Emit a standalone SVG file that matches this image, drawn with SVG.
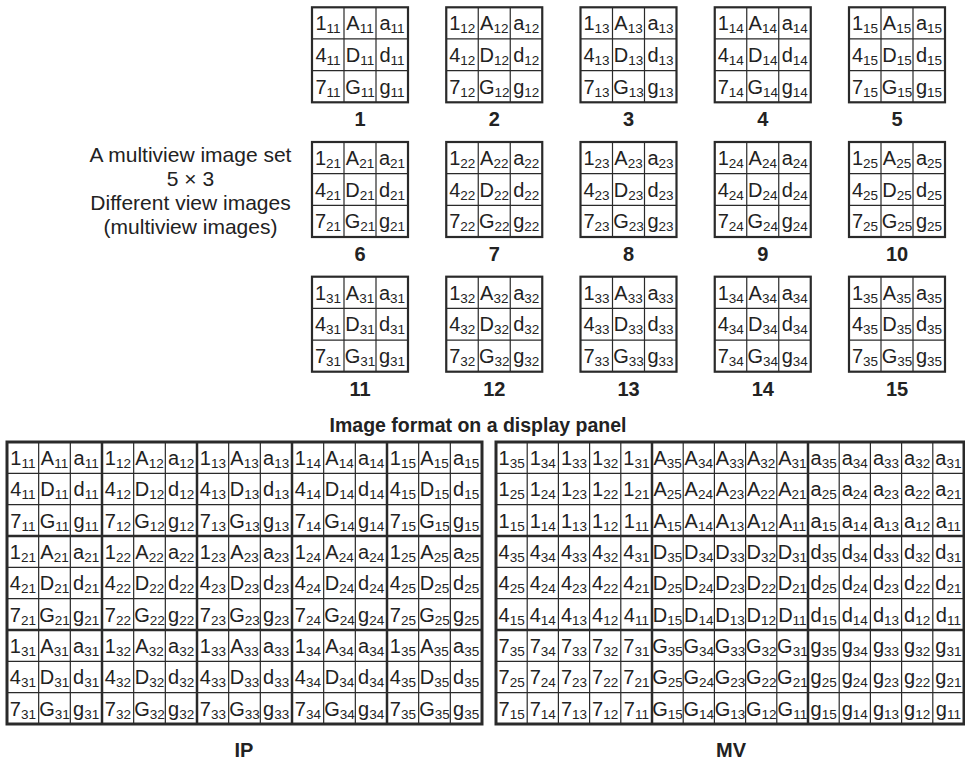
<svg xmlns="http://www.w3.org/2000/svg" width="965" height="760" viewBox="0 0 965 760">
<style>
text{font-family:"Liberation Sans",Arial,Helvetica,sans-serif;fill:#222}
.t{font-size:20px;text-anchor:middle}
.s{font-size:13.5px}
.n{font-size:20px;font-weight:bold;text-anchor:middle}
.h{font-size:19.5px;font-weight:bold;text-anchor:middle}
.l{font-size:21px;text-anchor:middle}
.thin{stroke:#2a2a2a;stroke-width:1.2;fill:none}
.thick{stroke:#2a2a2a;stroke-width:2.5;fill:none}
</style>
<defs>
<g id="sg"><path class="thin" d="M32 0V95M64 0V95M0 31.67H96M0 63.33H96"/><rect class="thick" x="0" y="0" width="96" height="95" style="stroke-width:2.2"/></g>
</defs>
<rect width="965" height="760" fill="#fff"/>

<g id="caption-set">
<text class="l" x="190.5" y="162">A multiview image set</text>
<text class="l" x="190.5" y="186">5 × 3</text>
<text class="l" x="190.5" y="210">Different view images</text>
<text class="l" x="190.5" y="233.5">(multiview images)</text>
</g>

<g id="views" class="t">
<g id="view-1" transform="translate(312,7.3)"><use href="#sg"/>
<text x="16" y="23">1<tspan class="s" dy="3">11</tspan></text><text x="48" y="23">A<tspan class="s" dy="3">11</tspan></text><text x="80" y="23">a<tspan class="s" dy="3">11</tspan></text>
<text x="16" y="54.7">4<tspan class="s" dy="3">11</tspan></text><text x="48" y="54.7">D<tspan class="s" dy="3">11</tspan></text><text x="80" y="54.7">d<tspan class="s" dy="3">11</tspan></text>
<text x="16" y="86.3">7<tspan class="s" dy="3">11</tspan></text><text x="48" y="86.3">G<tspan class="s" dy="3">11</tspan></text><text x="80" y="86.3">g<tspan class="s" dy="3">11</tspan></text>
<text class="n" x="48" y="119">1</text></g>
<g id="view-2" transform="translate(446.25,7.3)"><use href="#sg"/>
<text x="16" y="23">1<tspan class="s" dy="3">12</tspan></text><text x="48" y="23">A<tspan class="s" dy="3">12</tspan></text><text x="80" y="23">a<tspan class="s" dy="3">12</tspan></text>
<text x="16" y="54.7">4<tspan class="s" dy="3">12</tspan></text><text x="48" y="54.7">D<tspan class="s" dy="3">12</tspan></text><text x="80" y="54.7">d<tspan class="s" dy="3">12</tspan></text>
<text x="16" y="86.3">7<tspan class="s" dy="3">12</tspan></text><text x="48" y="86.3">G<tspan class="s" dy="3">12</tspan></text><text x="80" y="86.3">g<tspan class="s" dy="3">12</tspan></text>
<text class="n" x="48" y="119">2</text></g>
<g id="view-3" transform="translate(580.5,7.3)"><use href="#sg"/>
<text x="16" y="23">1<tspan class="s" dy="3">13</tspan></text><text x="48" y="23">A<tspan class="s" dy="3">13</tspan></text><text x="80" y="23">a<tspan class="s" dy="3">13</tspan></text>
<text x="16" y="54.7">4<tspan class="s" dy="3">13</tspan></text><text x="48" y="54.7">D<tspan class="s" dy="3">13</tspan></text><text x="80" y="54.7">d<tspan class="s" dy="3">13</tspan></text>
<text x="16" y="86.3">7<tspan class="s" dy="3">13</tspan></text><text x="48" y="86.3">G<tspan class="s" dy="3">13</tspan></text><text x="80" y="86.3">g<tspan class="s" dy="3">13</tspan></text>
<text class="n" x="48" y="119">3</text></g>
<g id="view-4" transform="translate(714.75,7.3)"><use href="#sg"/>
<text x="16" y="23">1<tspan class="s" dy="3">14</tspan></text><text x="48" y="23">A<tspan class="s" dy="3">14</tspan></text><text x="80" y="23">a<tspan class="s" dy="3">14</tspan></text>
<text x="16" y="54.7">4<tspan class="s" dy="3">14</tspan></text><text x="48" y="54.7">D<tspan class="s" dy="3">14</tspan></text><text x="80" y="54.7">d<tspan class="s" dy="3">14</tspan></text>
<text x="16" y="86.3">7<tspan class="s" dy="3">14</tspan></text><text x="48" y="86.3">G<tspan class="s" dy="3">14</tspan></text><text x="80" y="86.3">g<tspan class="s" dy="3">14</tspan></text>
<text class="n" x="48" y="119">4</text></g>
<g id="view-5" transform="translate(849,7.3)"><use href="#sg"/>
<text x="16" y="23">1<tspan class="s" dy="3">15</tspan></text><text x="48" y="23">A<tspan class="s" dy="3">15</tspan></text><text x="80" y="23">a<tspan class="s" dy="3">15</tspan></text>
<text x="16" y="54.7">4<tspan class="s" dy="3">15</tspan></text><text x="48" y="54.7">D<tspan class="s" dy="3">15</tspan></text><text x="80" y="54.7">d<tspan class="s" dy="3">15</tspan></text>
<text x="16" y="86.3">7<tspan class="s" dy="3">15</tspan></text><text x="48" y="86.3">G<tspan class="s" dy="3">15</tspan></text><text x="80" y="86.3">g<tspan class="s" dy="3">15</tspan></text>
<text class="n" x="48" y="119">5</text></g>

<g id="view-6" transform="translate(312,142)"><use href="#sg"/>
<text x="16" y="23">1<tspan class="s" dy="3">21</tspan></text><text x="48" y="23">A<tspan class="s" dy="3">21</tspan></text><text x="80" y="23">a<tspan class="s" dy="3">21</tspan></text>
<text x="16" y="54.7">4<tspan class="s" dy="3">21</tspan></text><text x="48" y="54.7">D<tspan class="s" dy="3">21</tspan></text><text x="80" y="54.7">d<tspan class="s" dy="3">21</tspan></text>
<text x="16" y="86.3">7<tspan class="s" dy="3">21</tspan></text><text x="48" y="86.3">G<tspan class="s" dy="3">21</tspan></text><text x="80" y="86.3">g<tspan class="s" dy="3">21</tspan></text>
<text class="n" x="48" y="119">6</text></g>
<g id="view-7" transform="translate(446.25,142)"><use href="#sg"/>
<text x="16" y="23">1<tspan class="s" dy="3">22</tspan></text><text x="48" y="23">A<tspan class="s" dy="3">22</tspan></text><text x="80" y="23">a<tspan class="s" dy="3">22</tspan></text>
<text x="16" y="54.7">4<tspan class="s" dy="3">22</tspan></text><text x="48" y="54.7">D<tspan class="s" dy="3">22</tspan></text><text x="80" y="54.7">d<tspan class="s" dy="3">22</tspan></text>
<text x="16" y="86.3">7<tspan class="s" dy="3">22</tspan></text><text x="48" y="86.3">G<tspan class="s" dy="3">22</tspan></text><text x="80" y="86.3">g<tspan class="s" dy="3">22</tspan></text>
<text class="n" x="48" y="119">7</text></g>
<g id="view-8" transform="translate(580.5,142)"><use href="#sg"/>
<text x="16" y="23">1<tspan class="s" dy="3">23</tspan></text><text x="48" y="23">A<tspan class="s" dy="3">23</tspan></text><text x="80" y="23">a<tspan class="s" dy="3">23</tspan></text>
<text x="16" y="54.7">4<tspan class="s" dy="3">23</tspan></text><text x="48" y="54.7">D<tspan class="s" dy="3">23</tspan></text><text x="80" y="54.7">d<tspan class="s" dy="3">23</tspan></text>
<text x="16" y="86.3">7<tspan class="s" dy="3">23</tspan></text><text x="48" y="86.3">G<tspan class="s" dy="3">23</tspan></text><text x="80" y="86.3">g<tspan class="s" dy="3">23</tspan></text>
<text class="n" x="48" y="119">8</text></g>
<g id="view-9" transform="translate(714.75,142)"><use href="#sg"/>
<text x="16" y="23">1<tspan class="s" dy="3">24</tspan></text><text x="48" y="23">A<tspan class="s" dy="3">24</tspan></text><text x="80" y="23">a<tspan class="s" dy="3">24</tspan></text>
<text x="16" y="54.7">4<tspan class="s" dy="3">24</tspan></text><text x="48" y="54.7">D<tspan class="s" dy="3">24</tspan></text><text x="80" y="54.7">d<tspan class="s" dy="3">24</tspan></text>
<text x="16" y="86.3">7<tspan class="s" dy="3">24</tspan></text><text x="48" y="86.3">G<tspan class="s" dy="3">24</tspan></text><text x="80" y="86.3">g<tspan class="s" dy="3">24</tspan></text>
<text class="n" x="48" y="119">9</text></g>
<g id="view-10" transform="translate(849,142)"><use href="#sg"/>
<text x="16" y="23">1<tspan class="s" dy="3">25</tspan></text><text x="48" y="23">A<tspan class="s" dy="3">25</tspan></text><text x="80" y="23">a<tspan class="s" dy="3">25</tspan></text>
<text x="16" y="54.7">4<tspan class="s" dy="3">25</tspan></text><text x="48" y="54.7">D<tspan class="s" dy="3">25</tspan></text><text x="80" y="54.7">d<tspan class="s" dy="3">25</tspan></text>
<text x="16" y="86.3">7<tspan class="s" dy="3">25</tspan></text><text x="48" y="86.3">G<tspan class="s" dy="3">25</tspan></text><text x="80" y="86.3">g<tspan class="s" dy="3">25</tspan></text>
<text class="n" x="48" y="119">10</text></g>

<g id="view-11" transform="translate(312,276.7)"><use href="#sg"/>
<text x="16" y="23">1<tspan class="s" dy="3">31</tspan></text><text x="48" y="23">A<tspan class="s" dy="3">31</tspan></text><text x="80" y="23">a<tspan class="s" dy="3">31</tspan></text>
<text x="16" y="54.7">4<tspan class="s" dy="3">31</tspan></text><text x="48" y="54.7">D<tspan class="s" dy="3">31</tspan></text><text x="80" y="54.7">d<tspan class="s" dy="3">31</tspan></text>
<text x="16" y="86.3">7<tspan class="s" dy="3">31</tspan></text><text x="48" y="86.3">G<tspan class="s" dy="3">31</tspan></text><text x="80" y="86.3">g<tspan class="s" dy="3">31</tspan></text>
<text class="n" x="48" y="119">11</text></g>
<g id="view-12" transform="translate(446.25,276.7)"><use href="#sg"/>
<text x="16" y="23">1<tspan class="s" dy="3">32</tspan></text><text x="48" y="23">A<tspan class="s" dy="3">32</tspan></text><text x="80" y="23">a<tspan class="s" dy="3">32</tspan></text>
<text x="16" y="54.7">4<tspan class="s" dy="3">32</tspan></text><text x="48" y="54.7">D<tspan class="s" dy="3">32</tspan></text><text x="80" y="54.7">d<tspan class="s" dy="3">32</tspan></text>
<text x="16" y="86.3">7<tspan class="s" dy="3">32</tspan></text><text x="48" y="86.3">G<tspan class="s" dy="3">32</tspan></text><text x="80" y="86.3">g<tspan class="s" dy="3">32</tspan></text>
<text class="n" x="48" y="119">12</text></g>
<g id="view-13" transform="translate(580.5,276.7)"><use href="#sg"/>
<text x="16" y="23">1<tspan class="s" dy="3">33</tspan></text><text x="48" y="23">A<tspan class="s" dy="3">33</tspan></text><text x="80" y="23">a<tspan class="s" dy="3">33</tspan></text>
<text x="16" y="54.7">4<tspan class="s" dy="3">33</tspan></text><text x="48" y="54.7">D<tspan class="s" dy="3">33</tspan></text><text x="80" y="54.7">d<tspan class="s" dy="3">33</tspan></text>
<text x="16" y="86.3">7<tspan class="s" dy="3">33</tspan></text><text x="48" y="86.3">G<tspan class="s" dy="3">33</tspan></text><text x="80" y="86.3">g<tspan class="s" dy="3">33</tspan></text>
<text class="n" x="48" y="119">13</text></g>
<g id="view-14" transform="translate(714.75,276.7)"><use href="#sg"/>
<text x="16" y="23">1<tspan class="s" dy="3">34</tspan></text><text x="48" y="23">A<tspan class="s" dy="3">34</tspan></text><text x="80" y="23">a<tspan class="s" dy="3">34</tspan></text>
<text x="16" y="54.7">4<tspan class="s" dy="3">34</tspan></text><text x="48" y="54.7">D<tspan class="s" dy="3">34</tspan></text><text x="80" y="54.7">d<tspan class="s" dy="3">34</tspan></text>
<text x="16" y="86.3">7<tspan class="s" dy="3">34</tspan></text><text x="48" y="86.3">G<tspan class="s" dy="3">34</tspan></text><text x="80" y="86.3">g<tspan class="s" dy="3">34</tspan></text>
<text class="n" x="48" y="119">14</text></g>
<g id="view-15" transform="translate(849,276.7)"><use href="#sg"/>
<text x="16" y="23">1<tspan class="s" dy="3">35</tspan></text><text x="48" y="23">A<tspan class="s" dy="3">35</tspan></text><text x="80" y="23">a<tspan class="s" dy="3">35</tspan></text>
<text x="16" y="54.7">4<tspan class="s" dy="3">35</tspan></text><text x="48" y="54.7">D<tspan class="s" dy="3">35</tspan></text><text x="80" y="54.7">d<tspan class="s" dy="3">35</tspan></text>
<text x="16" y="86.3">7<tspan class="s" dy="3">35</tspan></text><text x="48" y="86.3">G<tspan class="s" dy="3">35</tspan></text><text x="80" y="86.3">g<tspan class="s" dy="3">35</tspan></text>
<text class="n" x="48" y="119">15</text></g>
</g>

<text class="h" x="478" y="432">Image format on a display panel</text>

<g id="ip-panel" class="t">
<path class="thin" d="M38.67 442V724M70.33 442V724M133.67 442V724M165.33 442V724M228.67 442V724M260.33 442V724M323.67 442V724M355.33 442V724M418.67 442V724M450.33 442V724M7 473.33H482M7 504.67H482M7 567.33H482M7 598.67H482M7 661.33H482M7 692.67H482"/>
<path class="thick" d="M102 442V724M197 442V724M292 442V724M387 442V724M7 536H482M7 630H482"/>
<rect class="thick" x="7" y="442" width="475" height="282" style="stroke-width:3"/>

<g transform="translate(7,442)">
<text x="15.83" y="23">1<tspan class="s" dy="3">11</tspan></text><text x="47.5" y="23">A<tspan class="s" dy="3">11</tspan></text><text x="79.17" y="23">a<tspan class="s" dy="3">11</tspan></text>
<text x="15.83" y="54.3">4<tspan class="s" dy="3">11</tspan></text><text x="47.5" y="54.3">D<tspan class="s" dy="3">11</tspan></text><text x="79.17" y="54.3">d<tspan class="s" dy="3">11</tspan></text>
<text x="15.83" y="85.7">7<tspan class="s" dy="3">11</tspan></text><text x="47.5" y="85.7">G<tspan class="s" dy="3">11</tspan></text><text x="79.17" y="85.7">g<tspan class="s" dy="3">11</tspan></text>
</g>
<g transform="translate(102,442)">
<text x="15.83" y="23">1<tspan class="s" dy="3">12</tspan></text><text x="47.5" y="23">A<tspan class="s" dy="3">12</tspan></text><text x="79.17" y="23">a<tspan class="s" dy="3">12</tspan></text>
<text x="15.83" y="54.3">4<tspan class="s" dy="3">12</tspan></text><text x="47.5" y="54.3">D<tspan class="s" dy="3">12</tspan></text><text x="79.17" y="54.3">d<tspan class="s" dy="3">12</tspan></text>
<text x="15.83" y="85.7">7<tspan class="s" dy="3">12</tspan></text><text x="47.5" y="85.7">G<tspan class="s" dy="3">12</tspan></text><text x="79.17" y="85.7">g<tspan class="s" dy="3">12</tspan></text>
</g>
<g transform="translate(197,442)">
<text x="15.83" y="23">1<tspan class="s" dy="3">13</tspan></text><text x="47.5" y="23">A<tspan class="s" dy="3">13</tspan></text><text x="79.17" y="23">a<tspan class="s" dy="3">13</tspan></text>
<text x="15.83" y="54.3">4<tspan class="s" dy="3">13</tspan></text><text x="47.5" y="54.3">D<tspan class="s" dy="3">13</tspan></text><text x="79.17" y="54.3">d<tspan class="s" dy="3">13</tspan></text>
<text x="15.83" y="85.7">7<tspan class="s" dy="3">13</tspan></text><text x="47.5" y="85.7">G<tspan class="s" dy="3">13</tspan></text><text x="79.17" y="85.7">g<tspan class="s" dy="3">13</tspan></text>
</g>
<g transform="translate(292,442)">
<text x="15.83" y="23">1<tspan class="s" dy="3">14</tspan></text><text x="47.5" y="23">A<tspan class="s" dy="3">14</tspan></text><text x="79.17" y="23">a<tspan class="s" dy="3">14</tspan></text>
<text x="15.83" y="54.3">4<tspan class="s" dy="3">14</tspan></text><text x="47.5" y="54.3">D<tspan class="s" dy="3">14</tspan></text><text x="79.17" y="54.3">d<tspan class="s" dy="3">14</tspan></text>
<text x="15.83" y="85.7">7<tspan class="s" dy="3">14</tspan></text><text x="47.5" y="85.7">G<tspan class="s" dy="3">14</tspan></text><text x="79.17" y="85.7">g<tspan class="s" dy="3">14</tspan></text>
</g>
<g transform="translate(387,442)">
<text x="15.83" y="23">1<tspan class="s" dy="3">15</tspan></text><text x="47.5" y="23">A<tspan class="s" dy="3">15</tspan></text><text x="79.17" y="23">a<tspan class="s" dy="3">15</tspan></text>
<text x="15.83" y="54.3">4<tspan class="s" dy="3">15</tspan></text><text x="47.5" y="54.3">D<tspan class="s" dy="3">15</tspan></text><text x="79.17" y="54.3">d<tspan class="s" dy="3">15</tspan></text>
<text x="15.83" y="85.7">7<tspan class="s" dy="3">15</tspan></text><text x="47.5" y="85.7">G<tspan class="s" dy="3">15</tspan></text><text x="79.17" y="85.7">g<tspan class="s" dy="3">15</tspan></text>
</g>

<g transform="translate(7,536)">
<text x="15.83" y="23">1<tspan class="s" dy="3">21</tspan></text><text x="47.5" y="23">A<tspan class="s" dy="3">21</tspan></text><text x="79.17" y="23">a<tspan class="s" dy="3">21</tspan></text>
<text x="15.83" y="54.3">4<tspan class="s" dy="3">21</tspan></text><text x="47.5" y="54.3">D<tspan class="s" dy="3">21</tspan></text><text x="79.17" y="54.3">d<tspan class="s" dy="3">21</tspan></text>
<text x="15.83" y="85.7">7<tspan class="s" dy="3">21</tspan></text><text x="47.5" y="85.7">G<tspan class="s" dy="3">21</tspan></text><text x="79.17" y="85.7">g<tspan class="s" dy="3">21</tspan></text>
</g>
<g transform="translate(102,536)">
<text x="15.83" y="23">1<tspan class="s" dy="3">22</tspan></text><text x="47.5" y="23">A<tspan class="s" dy="3">22</tspan></text><text x="79.17" y="23">a<tspan class="s" dy="3">22</tspan></text>
<text x="15.83" y="54.3">4<tspan class="s" dy="3">22</tspan></text><text x="47.5" y="54.3">D<tspan class="s" dy="3">22</tspan></text><text x="79.17" y="54.3">d<tspan class="s" dy="3">22</tspan></text>
<text x="15.83" y="85.7">7<tspan class="s" dy="3">22</tspan></text><text x="47.5" y="85.7">G<tspan class="s" dy="3">22</tspan></text><text x="79.17" y="85.7">g<tspan class="s" dy="3">22</tspan></text>
</g>
<g transform="translate(197,536)">
<text x="15.83" y="23">1<tspan class="s" dy="3">23</tspan></text><text x="47.5" y="23">A<tspan class="s" dy="3">23</tspan></text><text x="79.17" y="23">a<tspan class="s" dy="3">23</tspan></text>
<text x="15.83" y="54.3">4<tspan class="s" dy="3">23</tspan></text><text x="47.5" y="54.3">D<tspan class="s" dy="3">23</tspan></text><text x="79.17" y="54.3">d<tspan class="s" dy="3">23</tspan></text>
<text x="15.83" y="85.7">7<tspan class="s" dy="3">23</tspan></text><text x="47.5" y="85.7">G<tspan class="s" dy="3">23</tspan></text><text x="79.17" y="85.7">g<tspan class="s" dy="3">23</tspan></text>
</g>
<g transform="translate(292,536)">
<text x="15.83" y="23">1<tspan class="s" dy="3">24</tspan></text><text x="47.5" y="23">A<tspan class="s" dy="3">24</tspan></text><text x="79.17" y="23">a<tspan class="s" dy="3">24</tspan></text>
<text x="15.83" y="54.3">4<tspan class="s" dy="3">24</tspan></text><text x="47.5" y="54.3">D<tspan class="s" dy="3">24</tspan></text><text x="79.17" y="54.3">d<tspan class="s" dy="3">24</tspan></text>
<text x="15.83" y="85.7">7<tspan class="s" dy="3">24</tspan></text><text x="47.5" y="85.7">G<tspan class="s" dy="3">24</tspan></text><text x="79.17" y="85.7">g<tspan class="s" dy="3">24</tspan></text>
</g>
<g transform="translate(387,536)">
<text x="15.83" y="23">1<tspan class="s" dy="3">25</tspan></text><text x="47.5" y="23">A<tspan class="s" dy="3">25</tspan></text><text x="79.17" y="23">a<tspan class="s" dy="3">25</tspan></text>
<text x="15.83" y="54.3">4<tspan class="s" dy="3">25</tspan></text><text x="47.5" y="54.3">D<tspan class="s" dy="3">25</tspan></text><text x="79.17" y="54.3">d<tspan class="s" dy="3">25</tspan></text>
<text x="15.83" y="85.7">7<tspan class="s" dy="3">25</tspan></text><text x="47.5" y="85.7">G<tspan class="s" dy="3">25</tspan></text><text x="79.17" y="85.7">g<tspan class="s" dy="3">25</tspan></text>
</g>

<g transform="translate(7,630)">
<text x="15.83" y="23">1<tspan class="s" dy="3">31</tspan></text><text x="47.5" y="23">A<tspan class="s" dy="3">31</tspan></text><text x="79.17" y="23">a<tspan class="s" dy="3">31</tspan></text>
<text x="15.83" y="54.3">4<tspan class="s" dy="3">31</tspan></text><text x="47.5" y="54.3">D<tspan class="s" dy="3">31</tspan></text><text x="79.17" y="54.3">d<tspan class="s" dy="3">31</tspan></text>
<text x="15.83" y="85.7">7<tspan class="s" dy="3">31</tspan></text><text x="47.5" y="85.7">G<tspan class="s" dy="3">31</tspan></text><text x="79.17" y="85.7">g<tspan class="s" dy="3">31</tspan></text>
</g>
<g transform="translate(102,630)">
<text x="15.83" y="23">1<tspan class="s" dy="3">32</tspan></text><text x="47.5" y="23">A<tspan class="s" dy="3">32</tspan></text><text x="79.17" y="23">a<tspan class="s" dy="3">32</tspan></text>
<text x="15.83" y="54.3">4<tspan class="s" dy="3">32</tspan></text><text x="47.5" y="54.3">D<tspan class="s" dy="3">32</tspan></text><text x="79.17" y="54.3">d<tspan class="s" dy="3">32</tspan></text>
<text x="15.83" y="85.7">7<tspan class="s" dy="3">32</tspan></text><text x="47.5" y="85.7">G<tspan class="s" dy="3">32</tspan></text><text x="79.17" y="85.7">g<tspan class="s" dy="3">32</tspan></text>
</g>
<g transform="translate(197,630)">
<text x="15.83" y="23">1<tspan class="s" dy="3">33</tspan></text><text x="47.5" y="23">A<tspan class="s" dy="3">33</tspan></text><text x="79.17" y="23">a<tspan class="s" dy="3">33</tspan></text>
<text x="15.83" y="54.3">4<tspan class="s" dy="3">33</tspan></text><text x="47.5" y="54.3">D<tspan class="s" dy="3">33</tspan></text><text x="79.17" y="54.3">d<tspan class="s" dy="3">33</tspan></text>
<text x="15.83" y="85.7">7<tspan class="s" dy="3">33</tspan></text><text x="47.5" y="85.7">G<tspan class="s" dy="3">33</tspan></text><text x="79.17" y="85.7">g<tspan class="s" dy="3">33</tspan></text>
</g>
<g transform="translate(292,630)">
<text x="15.83" y="23">1<tspan class="s" dy="3">34</tspan></text><text x="47.5" y="23">A<tspan class="s" dy="3">34</tspan></text><text x="79.17" y="23">a<tspan class="s" dy="3">34</tspan></text>
<text x="15.83" y="54.3">4<tspan class="s" dy="3">34</tspan></text><text x="47.5" y="54.3">D<tspan class="s" dy="3">34</tspan></text><text x="79.17" y="54.3">d<tspan class="s" dy="3">34</tspan></text>
<text x="15.83" y="85.7">7<tspan class="s" dy="3">34</tspan></text><text x="47.5" y="85.7">G<tspan class="s" dy="3">34</tspan></text><text x="79.17" y="85.7">g<tspan class="s" dy="3">34</tspan></text>
</g>
<g transform="translate(387,630)">
<text x="15.83" y="23">1<tspan class="s" dy="3">35</tspan></text><text x="47.5" y="23">A<tspan class="s" dy="3">35</tspan></text><text x="79.17" y="23">a<tspan class="s" dy="3">35</tspan></text>
<text x="15.83" y="54.3">4<tspan class="s" dy="3">35</tspan></text><text x="47.5" y="54.3">D<tspan class="s" dy="3">35</tspan></text><text x="79.17" y="54.3">d<tspan class="s" dy="3">35</tspan></text>
<text x="15.83" y="85.7">7<tspan class="s" dy="3">35</tspan></text><text x="47.5" y="85.7">G<tspan class="s" dy="3">35</tspan></text><text x="79.17" y="85.7">g<tspan class="s" dy="3">35</tspan></text>
</g>
<text class="n" x="244" y="757">IP</text>
</g>

<g id="mv-panel" class="t">
<path class="thin" d="M527.2 442V724M558.4 442V724M589.6 442V724M620.8 442V724M683.2 442V724M714.4 442V724M745.6 442V724M776.8 442V724M839.2 442V724M870.4 442V724M901.6 442V724M932.8 442V724M496 473.33H964M496 504.67H964M496 567.33H964M496 598.67H964M496 661.33H964M496 692.67H964"/>
<path class="thick" d="M652 442V724M808 442V724M496 536H964M496 630H964"/>
<rect class="thick" x="496" y="442" width="468" height="282" style="stroke-width:3"/>

<g transform="translate(496,442)">
<text x="15.6" y="23">1<tspan class="s" dy="3">35</tspan></text><text x="46.8" y="23">1<tspan class="s" dy="3">34</tspan></text><text x="78" y="23">1<tspan class="s" dy="3">33</tspan></text><text x="109.2" y="23">1<tspan class="s" dy="3">32</tspan></text><text x="140.4" y="23">1<tspan class="s" dy="3">31</tspan></text>
<text x="15.6" y="54.3">1<tspan class="s" dy="3">25</tspan></text><text x="46.8" y="54.3">1<tspan class="s" dy="3">24</tspan></text><text x="78" y="54.3">1<tspan class="s" dy="3">23</tspan></text><text x="109.2" y="54.3">1<tspan class="s" dy="3">22</tspan></text><text x="140.4" y="54.3">1<tspan class="s" dy="3">21</tspan></text>
<text x="15.6" y="85.7">1<tspan class="s" dy="3">15</tspan></text><text x="46.8" y="85.7">1<tspan class="s" dy="3">14</tspan></text><text x="78" y="85.7">1<tspan class="s" dy="3">13</tspan></text><text x="109.2" y="85.7">1<tspan class="s" dy="3">12</tspan></text><text x="140.4" y="85.7">1<tspan class="s" dy="3">11</tspan></text>
</g>
<g transform="translate(652,442)">
<text x="15.6" y="23">A<tspan class="s" dy="3">35</tspan></text><text x="46.8" y="23">A<tspan class="s" dy="3">34</tspan></text><text x="78" y="23">A<tspan class="s" dy="3">33</tspan></text><text x="109.2" y="23">A<tspan class="s" dy="3">32</tspan></text><text x="140.4" y="23">A<tspan class="s" dy="3">31</tspan></text>
<text x="15.6" y="54.3">A<tspan class="s" dy="3">25</tspan></text><text x="46.8" y="54.3">A<tspan class="s" dy="3">24</tspan></text><text x="78" y="54.3">A<tspan class="s" dy="3">23</tspan></text><text x="109.2" y="54.3">A<tspan class="s" dy="3">22</tspan></text><text x="140.4" y="54.3">A<tspan class="s" dy="3">21</tspan></text>
<text x="15.6" y="85.7">A<tspan class="s" dy="3">15</tspan></text><text x="46.8" y="85.7">A<tspan class="s" dy="3">14</tspan></text><text x="78" y="85.7">A<tspan class="s" dy="3">13</tspan></text><text x="109.2" y="85.7">A<tspan class="s" dy="3">12</tspan></text><text x="140.4" y="85.7">A<tspan class="s" dy="3">11</tspan></text>
</g>
<g transform="translate(808,442)">
<text x="15.6" y="23">a<tspan class="s" dy="3">35</tspan></text><text x="46.8" y="23">a<tspan class="s" dy="3">34</tspan></text><text x="78" y="23">a<tspan class="s" dy="3">33</tspan></text><text x="109.2" y="23">a<tspan class="s" dy="3">32</tspan></text><text x="140.4" y="23">a<tspan class="s" dy="3">31</tspan></text>
<text x="15.6" y="54.3">a<tspan class="s" dy="3">25</tspan></text><text x="46.8" y="54.3">a<tspan class="s" dy="3">24</tspan></text><text x="78" y="54.3">a<tspan class="s" dy="3">23</tspan></text><text x="109.2" y="54.3">a<tspan class="s" dy="3">22</tspan></text><text x="140.4" y="54.3">a<tspan class="s" dy="3">21</tspan></text>
<text x="15.6" y="85.7">a<tspan class="s" dy="3">15</tspan></text><text x="46.8" y="85.7">a<tspan class="s" dy="3">14</tspan></text><text x="78" y="85.7">a<tspan class="s" dy="3">13</tspan></text><text x="109.2" y="85.7">a<tspan class="s" dy="3">12</tspan></text><text x="140.4" y="85.7">a<tspan class="s" dy="3">11</tspan></text>
</g>

<g transform="translate(496,536)">
<text x="15.6" y="23">4<tspan class="s" dy="3">35</tspan></text><text x="46.8" y="23">4<tspan class="s" dy="3">34</tspan></text><text x="78" y="23">4<tspan class="s" dy="3">33</tspan></text><text x="109.2" y="23">4<tspan class="s" dy="3">32</tspan></text><text x="140.4" y="23">4<tspan class="s" dy="3">31</tspan></text>
<text x="15.6" y="54.3">4<tspan class="s" dy="3">25</tspan></text><text x="46.8" y="54.3">4<tspan class="s" dy="3">24</tspan></text><text x="78" y="54.3">4<tspan class="s" dy="3">23</tspan></text><text x="109.2" y="54.3">4<tspan class="s" dy="3">22</tspan></text><text x="140.4" y="54.3">4<tspan class="s" dy="3">21</tspan></text>
<text x="15.6" y="85.7">4<tspan class="s" dy="3">15</tspan></text><text x="46.8" y="85.7">4<tspan class="s" dy="3">14</tspan></text><text x="78" y="85.7">4<tspan class="s" dy="3">13</tspan></text><text x="109.2" y="85.7">4<tspan class="s" dy="3">12</tspan></text><text x="140.4" y="85.7">4<tspan class="s" dy="3">11</tspan></text>
</g>
<g transform="translate(652,536)">
<text x="15.6" y="23">D<tspan class="s" dy="3">35</tspan></text><text x="46.8" y="23">D<tspan class="s" dy="3">34</tspan></text><text x="78" y="23">D<tspan class="s" dy="3">33</tspan></text><text x="109.2" y="23">D<tspan class="s" dy="3">32</tspan></text><text x="140.4" y="23">D<tspan class="s" dy="3">31</tspan></text>
<text x="15.6" y="54.3">D<tspan class="s" dy="3">25</tspan></text><text x="46.8" y="54.3">D<tspan class="s" dy="3">24</tspan></text><text x="78" y="54.3">D<tspan class="s" dy="3">23</tspan></text><text x="109.2" y="54.3">D<tspan class="s" dy="3">22</tspan></text><text x="140.4" y="54.3">D<tspan class="s" dy="3">21</tspan></text>
<text x="15.6" y="85.7">D<tspan class="s" dy="3">15</tspan></text><text x="46.8" y="85.7">D<tspan class="s" dy="3">14</tspan></text><text x="78" y="85.7">D<tspan class="s" dy="3">13</tspan></text><text x="109.2" y="85.7">D<tspan class="s" dy="3">12</tspan></text><text x="140.4" y="85.7">D<tspan class="s" dy="3">11</tspan></text>
</g>
<g transform="translate(808,536)">
<text x="15.6" y="23">d<tspan class="s" dy="3">35</tspan></text><text x="46.8" y="23">d<tspan class="s" dy="3">34</tspan></text><text x="78" y="23">d<tspan class="s" dy="3">33</tspan></text><text x="109.2" y="23">d<tspan class="s" dy="3">32</tspan></text><text x="140.4" y="23">d<tspan class="s" dy="3">31</tspan></text>
<text x="15.6" y="54.3">d<tspan class="s" dy="3">25</tspan></text><text x="46.8" y="54.3">d<tspan class="s" dy="3">24</tspan></text><text x="78" y="54.3">d<tspan class="s" dy="3">23</tspan></text><text x="109.2" y="54.3">d<tspan class="s" dy="3">22</tspan></text><text x="140.4" y="54.3">d<tspan class="s" dy="3">21</tspan></text>
<text x="15.6" y="85.7">d<tspan class="s" dy="3">15</tspan></text><text x="46.8" y="85.7">d<tspan class="s" dy="3">14</tspan></text><text x="78" y="85.7">d<tspan class="s" dy="3">13</tspan></text><text x="109.2" y="85.7">d<tspan class="s" dy="3">12</tspan></text><text x="140.4" y="85.7">d<tspan class="s" dy="3">11</tspan></text>
</g>

<g transform="translate(496,630)">
<text x="15.6" y="23">7<tspan class="s" dy="3">35</tspan></text><text x="46.8" y="23">7<tspan class="s" dy="3">34</tspan></text><text x="78" y="23">7<tspan class="s" dy="3">33</tspan></text><text x="109.2" y="23">7<tspan class="s" dy="3">32</tspan></text><text x="140.4" y="23">7<tspan class="s" dy="3">31</tspan></text>
<text x="15.6" y="54.3">7<tspan class="s" dy="3">25</tspan></text><text x="46.8" y="54.3">7<tspan class="s" dy="3">24</tspan></text><text x="78" y="54.3">7<tspan class="s" dy="3">23</tspan></text><text x="109.2" y="54.3">7<tspan class="s" dy="3">22</tspan></text><text x="140.4" y="54.3">7<tspan class="s" dy="3">21</tspan></text>
<text x="15.6" y="85.7">7<tspan class="s" dy="3">15</tspan></text><text x="46.8" y="85.7">7<tspan class="s" dy="3">14</tspan></text><text x="78" y="85.7">7<tspan class="s" dy="3">13</tspan></text><text x="109.2" y="85.7">7<tspan class="s" dy="3">12</tspan></text><text x="140.4" y="85.7">7<tspan class="s" dy="3">11</tspan></text>
</g>
<g transform="translate(652,630)">
<text x="15.6" y="23">G<tspan class="s" dy="3">35</tspan></text><text x="46.8" y="23">G<tspan class="s" dy="3">34</tspan></text><text x="78" y="23">G<tspan class="s" dy="3">33</tspan></text><text x="109.2" y="23">G<tspan class="s" dy="3">32</tspan></text><text x="140.4" y="23">G<tspan class="s" dy="3">31</tspan></text>
<text x="15.6" y="54.3">G<tspan class="s" dy="3">25</tspan></text><text x="46.8" y="54.3">G<tspan class="s" dy="3">24</tspan></text><text x="78" y="54.3">G<tspan class="s" dy="3">23</tspan></text><text x="109.2" y="54.3">G<tspan class="s" dy="3">22</tspan></text><text x="140.4" y="54.3">G<tspan class="s" dy="3">21</tspan></text>
<text x="15.6" y="85.7">G<tspan class="s" dy="3">15</tspan></text><text x="46.8" y="85.7">G<tspan class="s" dy="3">14</tspan></text><text x="78" y="85.7">G<tspan class="s" dy="3">13</tspan></text><text x="109.2" y="85.7">G<tspan class="s" dy="3">12</tspan></text><text x="140.4" y="85.7">G<tspan class="s" dy="3">11</tspan></text>
</g>
<g transform="translate(808,630)">
<text x="15.6" y="23">g<tspan class="s" dy="3">35</tspan></text><text x="46.8" y="23">g<tspan class="s" dy="3">34</tspan></text><text x="78" y="23">g<tspan class="s" dy="3">33</tspan></text><text x="109.2" y="23">g<tspan class="s" dy="3">32</tspan></text><text x="140.4" y="23">g<tspan class="s" dy="3">31</tspan></text>
<text x="15.6" y="54.3">g<tspan class="s" dy="3">25</tspan></text><text x="46.8" y="54.3">g<tspan class="s" dy="3">24</tspan></text><text x="78" y="54.3">g<tspan class="s" dy="3">23</tspan></text><text x="109.2" y="54.3">g<tspan class="s" dy="3">22</tspan></text><text x="140.4" y="54.3">g<tspan class="s" dy="3">21</tspan></text>
<text x="15.6" y="85.7">g<tspan class="s" dy="3">15</tspan></text><text x="46.8" y="85.7">g<tspan class="s" dy="3">14</tspan></text><text x="78" y="85.7">g<tspan class="s" dy="3">13</tspan></text><text x="109.2" y="85.7">g<tspan class="s" dy="3">12</tspan></text><text x="140.4" y="85.7">g<tspan class="s" dy="3">11</tspan></text>
</g>
<text class="n" x="731" y="757">MV</text>
</g>
</svg>
